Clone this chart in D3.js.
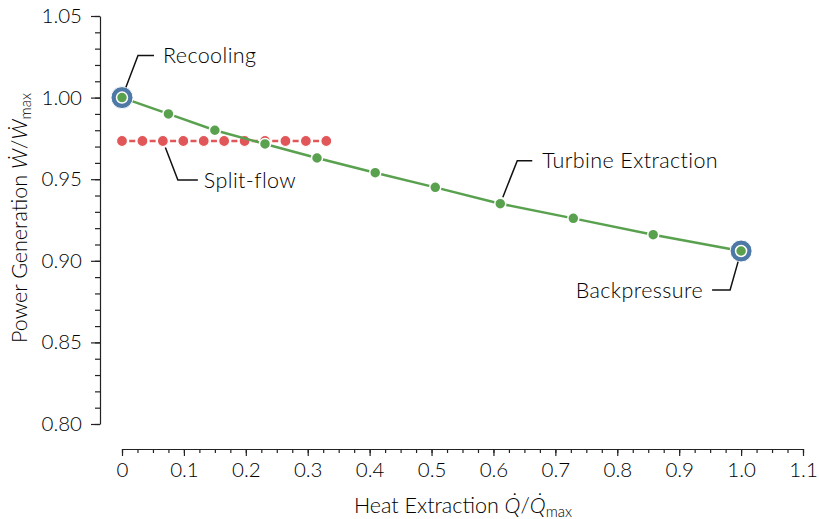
<!DOCTYPE html>
<html><head><meta charset="utf-8">
<script src="https://cdn.jsdelivr.net/npm/d3@7"></script>
<style>
body{margin:0;background:#fff;}
svg{display:block;}
text{font-family:Lato,"DejaVu Sans",sans-serif;font-weight:300;fill:#000;}
</style></head>
<body><div id="chart"></div>
<script>
// ---- data ----
const turbineX = [0, 0.075, 0.15, 0.231, 0.315, 0.409, 0.506, 0.611, 0.729, 0.858, 1.0];
const turbineY = [1.0, 0.990, 0.980, 0.9716, 0.963, 0.954, 0.945, 0.935, 0.926, 0.916, 0.906];
const splitX = [0, 0.033, 0.066, 0.099, 0.132, 0.165, 0.198, 0.231, 0.264, 0.297, 0.33];
const splitY = [0.9734, 0.9734, 0.9734, 0.9734, 0.9734, 0.9734, 0.9734, 0.9734, 0.9734, 0.9734, 0.9734];
const endpointX = [0, 1.0];
const endpointY = [1.0, 0.906];
const xTicks = [0, 0.1, 0.2, 0.3, 0.4, 0.5, 0.6, 0.7, 0.8, 0.9, 1.0, 1.1];
const xTickLabels = ["0", "0.1", "0.2", "0.3", "0.4", "0.5", "0.6", "0.7", "0.8", "0.9", "1.0", "1.1"];
const yTicks = [0.80, 0.85, 0.90, 0.95, 1.00, 1.05];
const yTickLabels = ["0.80", "0.85", "0.90", "0.95", "1.00", "1.05"];
const annLabels = ["Recooling", "Split-flow", "Turbine Extraction", "Backpressure"];
const annX = [0, 0.066, 0.611, 1.0];
const annY = [1.0, 0.9734, 0.935, 0.906];

// ---- layout / style ----
const W = 819, H = 519;
const FS = 20.5, FL = 21.5;
const colors = {green: "#59a14f", red: "#e15759", blue: "#4e79a7"};
const annLayout = [
  {kx: 16, ky: -42, ex: 32, tx: 41, anchor: "start", shrink: 11},
  {kx: 15, ky: 39, ex: 35, tx: 41, anchor: "start", shrink: 7},
  {kx: 17, ky: -43, ex: 32, tx: 42, anchor: "start", shrink: 7},
  {kx: -11, ky: 39, ex: -29, tx: -38, anchor: "end", shrink: 11}
];

const svg = d3.select("#chart").append("svg").attr("width", W).attr("height", H);
const x = d3.scaleLinear().domain([0, 1.1]).range([122, 803]);
const y = d3.scaleLinear().domain([0.80, 1.05]).range([424, 16]);

const axisColor = "#222";
// y axis
const yAxisX = 100;
const gy = svg.append("g").attr("transform", `translate(${yAxisX},0)`);
gy.call(d3.axisLeft(y).tickValues(d3.range(80, 106, 1).map(v => v / 100)).tickSize(5).tickSizeOuter(0).tickFormat(""));
const gy2 = svg.append("g").attr("transform", `translate(${yAxisX},0)`);
gy2.call(d3.axisLeft(y).tickValues(yTicks).tickSize(9).tickSizeOuter(0).tickPadding(9)
  .tickFormat((d, i) => yTickLabels[i]));
gy2.select(".domain").remove();
// x axis
const xAxisY = 449;
const gx = svg.append("g").attr("transform", `translate(0,${xAxisY})`);
gx.call(d3.axisBottom(x).tickValues(d3.range(0, 45, 1).map(v => v * 0.025)).tickSize(4).tickSizeOuter(0).tickFormat(""));
const gx2 = svg.append("g").attr("transform", `translate(0,${xAxisY})`);
gx2.call(d3.axisBottom(x).tickValues(xTicks).tickSize(7).tickSizeOuter(0).tickPadding(6)
  .tickFormat((d, i) => xTickLabels[i]));
gx2.select(".domain").remove();
svg.selectAll(".domain, .tick line").attr("stroke", axisColor).attr("stroke-width", 1.2);
svg.selectAll(".tick text").attr("font-size", FS).attr("fill", "#000").attr("font-family", null);

// axis labels
const xl = svg.append("text").attr("x", 463).attr("y", 513).attr("text-anchor", "middle").attr("font-size", FL);
xl.append("tspan").text("Heat Extraction ");
xl.append("tspan").attr("font-style", "italic").text("Q\u0307");
xl.append("tspan").text("/");
xl.append("tspan").attr("font-style", "italic").text("Q\u0307");
xl.append("tspan").attr("font-size", 15).attr("dy", 4).text("max");

const yl = svg.append("text").attr("transform", "translate(27,218) rotate(-90)").attr("text-anchor", "middle").attr("font-size", FL);
yl.append("tspan").text("Power Generation ");
yl.append("tspan").attr("font-style", "italic").text("W\u0307");
yl.append("tspan").text("/");
yl.append("tspan").attr("font-style", "italic").text("W\u0307");
yl.append("tspan").attr("font-size", 15).attr("dy", 4).text("max");

// split-flow
const splitData = splitX.map((v, i) => [v, splitY[i]]);
const turbData = turbineX.map((v, i) => [v, turbineY[i]]);
const line = d3.line().x(d => x(d[0])).y(d => y(d[1]));
const sp = x(splitX[1]) - x(splitX[0]);
const dashLen = 6;
svg.append("path").datum(splitData).attr("d", line).attr("fill", "none")
  .attr("stroke", colors.red).attr("stroke-width", 2.5)
  .attr("stroke-dasharray", `${dashLen},${sp - dashLen}`)
  .attr("stroke-dashoffset", -(sp / 2 - dashLen / 2));
svg.append("g").selectAll("circle").data(splitData).join("circle")
  .attr("cx", d => x(d[0])).attr("cy", d => y(d[1])).attr("r", 5.5)
  .attr("fill", colors.red).attr("stroke", "#fff").attr("stroke-width", 1.2);

// turbine line
svg.append("path").datum(turbData).attr("d", line).attr("fill", "none")
  .attr("stroke", colors.green).attr("stroke-width", 2.5);
// endpoints rings
svg.append("g").selectAll("circle").data(endpointX.map((v, i) => [v, endpointY[i]])).join("circle")
  .attr("cx", d => x(d[0])).attr("cy", d => y(d[1])).attr("r", 11)
  .attr("fill", colors.blue).attr("stroke", "#fff").attr("stroke-width", 1);
svg.append("g").selectAll("circle").data(turbData).join("circle")
  .attr("cx", d => x(d[0])).attr("cy", d => y(d[1])).attr("r", 5.5)
  .attr("fill", colors.green).attr("stroke", "#fff").attr("stroke-width", 1.5);

// annotations
annLabels.forEach((lab, i) => {
  const L = annLayout[i];
  const px = x(annX[i]), py = y(annY[i]);
  const kx = px + L.kx, ky = py + L.ky;
  const len = Math.hypot(L.kx, L.ky);
  const sx = px + L.kx / len * L.shrink, sy = py + L.ky / len * L.shrink;
  svg.append("path").attr("d", `M${sx},${sy}L${kx},${ky}L${px + L.ex},${ky}`)
    .attr("fill", "none").attr("stroke", "#111").attr("stroke-width", 1.5);
  svg.append("text").attr("x", px + L.tx).attr("y", ky).attr("dy", "0.35em")
    .attr("text-anchor", L.anchor).attr("font-size", FL).attr("letter-spacing", 0.4).text(lab);
});
</script></body></html>
